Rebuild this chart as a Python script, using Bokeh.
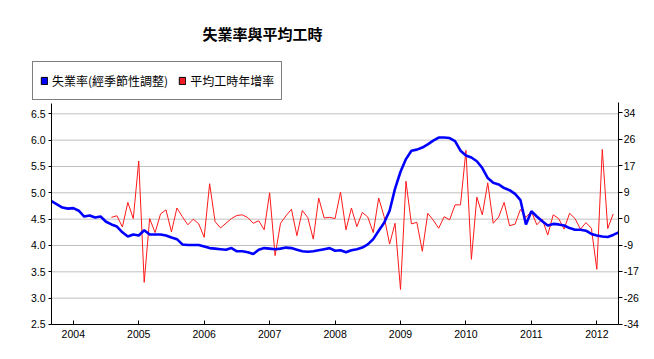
import pandas as pd
from bokeh.plotting import figure
from bokeh.models import (Range1d, LinearAxis, FixedTicker, Legend, LegendItem, Label)
from bokeh.embed import file_html
from bokeh.resources import INLINE

# ---------------- data ----------------
title_text = "失業率與平均工時"
series_names = ["失業率(經季節性調整)", "平均工時年增率"]

# Unemployment rate (seasonally adjusted, %), monthly from 2003-09
unemp_start = "2003-09"
unemp = [
    4.84, 4.78, 4.72, 4.70,
    4.71, 4.66, 4.55, 4.57, 4.53, 4.55, 4.45, 4.40, 4.36, 4.25, 4.17, 4.21,
    4.19, 4.29, 4.21, 4.21, 4.21, 4.19, 4.15, 4.12, 4.02, 4.01, 4.01, 4.01,
    3.98, 3.95, 3.94, 3.93, 3.92, 3.95, 3.89, 3.89, 3.87, 3.84, 3.92, 3.95,
    3.94, 3.93, 3.94, 3.96, 3.95, 3.92, 3.89, 3.88, 3.89, 3.91, 3.93, 3.95,
    3.90, 3.91, 3.87, 3.91, 3.93, 3.96, 4.02, 4.12, 4.28, 4.43, 4.66, 5.08,
    5.40, 5.64, 5.80, 5.82, 5.86, 5.92, 5.99, 6.05, 6.05, 6.04, 5.98, 5.80,
    5.71, 5.67, 5.60, 5.47, 5.28, 5.19, 5.16, 5.09, 5.05, 4.98, 4.86, 4.40,
    4.65, 4.55, 4.46, 4.38, 4.41, 4.40, 4.38, 4.33, 4.30, 4.30, 4.28, 4.22,
    4.19, 4.17, 4.16, 4.20, 4.25,
]

# Average working hours, year-on-year change (%), monthly from 2004-08
hours_start = "2004-08"
hours = [
    0.4, 0.9, -2.7, 5.2, 0.0,
    18.5, -20.5, 0.0, -4.5, 1.5, 2.8, -4.3, 3.4, 0.6, -2.0, -0.2, -1.7,
    -6.0, 11.2, -1.0, -3.0, -1.5, 0.0, 1.0, 1.2, 0.3, -1.5, -0.7, -3.6,
    8.3, -11.9, -1.5, 0.9, 3.0, -5.5, 2.6, 0.3, -6.6, 6.6, 0.2, 0.4,
    0.0, 8.5, -3.6, 3.4, -2.6, 2.0, 0.5, -4.5, 6.6, 0.6, -8.2, -1.5,
    -22.8, 12.0, -1.7, -1.2, -10.5, 1.7, -0.5, -3.1, 0.6, -0.4, 4.4, 4.4,
    21.9, -13.1, 6.9, 1.2, 11.5, -1.5, 0.5, 5.2, -2.3, -1.8, 3.0, 0.4,
    2.3, -2.0, -0.2, -5.3, 1.2, 0.0, -3.4, 1.7, 0.0, -3.4, -1.3, -3.1,
    -16.3, 22.2, -3.2, 1.5,
]

x_tick_years = [2004, 2005, 2006, 2007, 2008, 2009, 2010, 2011, 2012]
x_tick_labels = ["2004", "2005", "2006", "2007", "2008", "2009", "2010", "2011", "2012"]
left_ticks = [2.5, 3.0, 3.5, 4.0, 4.5, 5.0, 5.5, 6.0, 6.5]
left_tick_labels = ["2.5", "3.0", "3.5", "4.0", "4.5", "5.0", "5.5", "6.0", "6.5"]
right_ticks = [-34, -25.5, -17, -8.5, 0, 8.5, 17, 25.5, 34]
right_tick_labels = ["-34", "-26", "-17", "-9", "0", "9", "17", "26", "34"]


def decimal_years(start, n):
    periods = pd.period_range(start=start, periods=n, freq="M")
    return [pr.year + (pr.month - 1) / 12 for pr in periods]


def key(t):
    return int(t) if float(t).is_integer() else t


x_unemp = decimal_years(unemp_start, len(unemp))
x_hours = decimal_years(hours_start, len(hours))

# ---------------- layout constants ----------------
W, H = 646, 351
X_LO, X_HI = 2003 + 8 / 12, 2012 + 4 / 12          # plotted time span
Y_LO, Y_TOP = 2.5, 6.6955                          # left axis extent
R_LO, R_TOP = -34, 37.32                           # right axis extent
TICK_FONT = "Liberation Sans"
CJK_FONT = "Noto Sans CJK TC"
NAN = float("nan")

p = figure(width=W, height=H, output_backend="svg", toolbar_location=None,
           x_axis_location=None, y_axis_location=None,
           x_range=Range1d(2002.8875, 2012.759),
           y_range=Range1d(1.9874, 8.651),
           min_border_left=0, min_border_right=0,
           min_border_top=0, min_border_bottom=0)
p.title.text = ""
p.outline_line_color = None
p.background_fill_color = "white"
p.border_fill_color = "white"
p.grid.visible = False
p.extra_y_ranges = {"hours": Range1d(-42.71, 70.07)}


def style_axis(ax, tick_in, tick_out, standoff):
    ax.major_tick_in = tick_in
    ax.major_tick_out = tick_out
    ax.minor_tick_line_color = None
    ax.major_label_standoff = standoff
    ax.axis_line_color = "black"
    ax.axis_line_width = 1
    ax.major_tick_line_color = "black"
    ax.major_label_text_font = TICK_FONT
    ax.major_label_text_font_size = "10.5px"
    ax.major_label_text_color = "black"


# horizontal grid lines (limited to plotting span)
p.segment(x0=[X_LO] * len(left_ticks), x1=[X_HI] * len(left_ticks),
          y0=left_ticks, y1=left_ticks, line_color="#c0c0c0", line_width=1)

# series
p.line(x_hours, hours, line_color="#ff1a1a", line_width=1, y_range_name="hours")
p.line(x_unemp, unemp, line_color="#0000ff", line_width=2.6)

# x axis
xa = LinearAxis(ticker=FixedTicker(ticks=x_tick_years), fixed_location=Y_LO,
                bounds=(X_LO, X_HI))
xa.major_label_overrides = {key(t): l for t, l in zip(x_tick_years, x_tick_labels)}
style_axis(xa, 4, 0, 6)
p.add_layout(xa, "below")

# left axis
ya = LinearAxis(ticker=FixedTicker(ticks=left_ticks), fixed_location=X_LO,
                bounds=(Y_LO, Y_TOP))
ya.major_label_overrides = {key(t): l for t, l in zip(left_ticks, left_tick_labels)}
style_axis(ya, 0, 3, 3)
p.add_layout(ya, "left")

# right axis
ra = LinearAxis(y_range_name="hours", ticker=FixedTicker(ticks=right_ticks),
                fixed_location=X_HI, bounds=(R_LO, R_TOP))
ra.major_label_overrides = {key(t): l for t, l in zip(right_ticks, right_tick_labels)}
style_axis(ra, 0, 4, 1)
p.add_layout(ra, "right")

# legend proxies (square swatches, nothing drawn in the plot itself)
sw_blue = p.quad(left=[NAN], right=[NAN], top=[NAN], bottom=[NAN],
                 fill_color="#0000ff", line_color="black")
sw_red = p.quad(left=[NAN], right=[NAN], top=[NAN], bottom=[NAN],
                fill_color="#ee1c24", line_color="black")

legend = Legend(items=[LegendItem(label=series_names[0], renderers=[sw_blue]),
                       LegendItem(label=series_names[1], renderers=[sw_red])],
                orientation="horizontal", location=(32, H - 100),
                border_line_color="black", border_line_width=1,
                background_fill_color="white", background_fill_alpha=1,
                padding=7, spacing=10, margin=0,
                glyph_width=8, glyph_height=9, label_standoff=4,
                label_height=23,
                label_text_font=CJK_FONT, label_text_font_size="12px",
                label_text_color="black")
p.add_layout(legend)

title = Label(x=262, y=H - 33, x_units="screen", y_units="screen", text=title_text,
              text_align="center", text_baseline="middle",
              text_font=CJK_FONT, text_font_size="15px", text_font_style="bold",
              text_color="black")
p.add_layout(title)

open("out.html", "w").write(file_html(p, INLINE))
